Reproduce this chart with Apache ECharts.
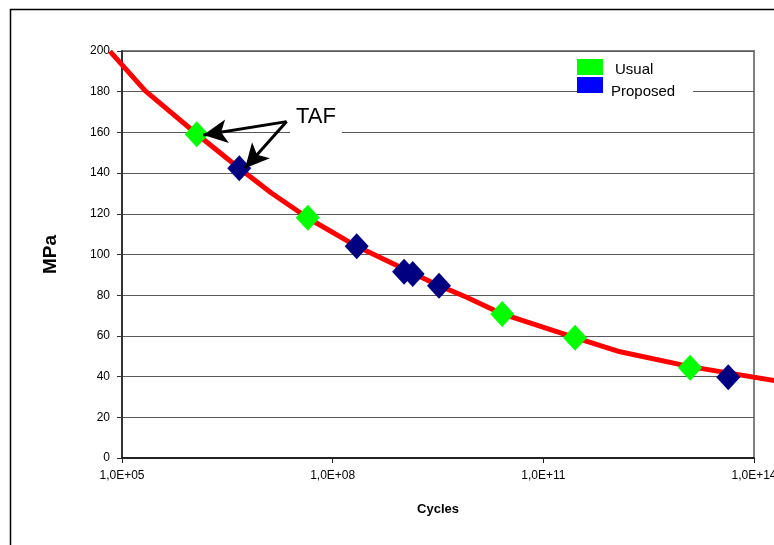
<!DOCTYPE html>
<html>
<head>
<meta charset="utf-8">
<script src="https://cdn.jsdelivr.net/npm/echarts@6/dist/echarts.min.js"></script>
<style>html,body{margin:0;padding:0;background:#fff}#c{width:774px;height:545px}</style>
</head>
<body>
<div id="c"></div>
<script>
// S-N curve (cycles, MPa)
var curveN = [6.75e4, 2.13e5, 1.17e6, 4.68e6, 1.34e7, 4.5e7, 2.2e8, 3.27e9, 8.1e9, 2.6e10, 2.83e11, 1.24e12, 1.23e13, 2.5e14];
var curveS = [199.8, 180.5, 159.1, 142.4, 130.2, 117.8, 104.0, 84.7, 79.0, 70.8, 59.1, 52.2, 44.9, 37.4];
// Usual test points
var usualN = [1.16e6, 4.43e7, 2.6e10, 2.83e11, 1.23e13];
var usualS = [159.1, 118.0, 70.8, 59.1, 44.4];
// Proposed test points
var propN = [4.68e6, 2.2e8, 1.04e9, 1.38e9, 3.27e9, 4.3e13];
var propS = [142.4, 104.0, 91.5, 90.4, 84.7, 39.7];
// tick labels
var xTicks = [1e5, 1e8, 1e11, 1e14];
var seriesNames = ['Usual', 'Proposed'];
var legendColors = ['#00ff00', '#0000ff'];

function pairs(a, b) { return a.map(function (v, i) { return [v, b[i]]; }); }
function fmt(v) {
  var e = Math.round(Math.log10(v));
  return '1,0E+' + (e < 10 ? '0' + e : '' + e);
}
var FONT = "'Liberation Sans', Arial, sans-serif";

var chart = echarts.init(document.getElementById('c'), null, { renderer: 'canvas' });
chart.setOption({
  animation: false,
  backgroundColor: '#fff',
  grid: { left: 122, right: 20, top: 51, bottom: 87, show: true, borderColor: '#808080', borderWidth: 2, outerBoundsMode: 'none', containLabel: false },
  xAxis: {
    type: 'log', logBase: 10, min: 1e5, max: 1e14,
    name: 'Cycles', nameLocation: 'middle', nameGap: 45,
    nameTextStyle: { fontFamily: FONT, fontSize: 13, fontWeight: 'bold', color: '#000' },
    axisLine: { lineStyle: { color: '#222', width: 2 } },
    axisTick: { show: true, length: 5, inside: false, customValues: xTicks, lineStyle: { color: '#222' } },
    axisLabel: { customValues: xTicks, formatter: fmt, margin: 12, fontFamily: FONT, fontSize: 12, color: '#000' },
    splitLine: { show: false },
    minorTick: { show: false }
  },
  yAxis: {
    type: 'value', min: 0, max: 200, interval: 20,
    name: 'MPa', nameLocation: 'middle', nameGap: 62, nameRotate: 90,
    nameTextStyle: { fontFamily: FONT, fontSize: 19, fontWeight: 'bold', color: '#000' },
    axisLine: { show: true, lineStyle: { color: '#333', width: 2 } },
    axisTick: { show: true, length: 5, inside: false, lineStyle: { color: '#333' } },
    axisLabel: { margin: 12, fontFamily: FONT, fontSize: 12, color: '#000' },
    splitLine: { show: true, lineStyle: { color: '#595959', width: 1 } }
  },
  series: [
    {
      name: 'S-N', type: 'lines', coordinateSystem: 'cartesian2d', polyline: true, clip: false,
      silent: true, z: 2,
      data: [{ coords: pairs(curveN, curveS) }],
      lineStyle: { color: '#ff0000', width: 5, opacity: 1, join: 'round' }
    },
    {
      name: seriesNames[0], type: 'scatter', data: pairs(usualN, usualS), symbol: 'diamond',
      symbolSize: [24, 26], itemStyle: { color: '#00ff00', opacity: 1 }, z: 3
    },
    {
      name: seriesNames[1], type: 'scatter', data: pairs(propN, propS), symbol: 'diamond',
      symbolSize: [24, 26], itemStyle: { color: '#000080', opacity: 1 }, z: 3,
      markLine: {
        silent: true, symbol: ['none', 'arrow'], symbolSize: [18, 24],
        label: { show: false },
        lineStyle: { color: '#000', width: 3, type: 'solid', opacity: 1 },
        emphasis: { disabled: true },
        data: [
          [{ coord: [2.21e7, 165.3] }, { coord: [1.44e6, 158.7] }],
          [{ coord: [2.21e7, 165.3] }, { coord: [5.65e6, 142.4] }]
        ]
      }
    }
  ],
  graphic: [
    { type: 'rect', left: 8, top: 7, shape: { width: 800, height: 600 }, style: { fill: 'none', stroke: '#000', lineWidth: 1.5 }, silent: true, z: 0 },
    { type: 'text', left: 290, top: 104, z: 10,
      style: { text: 'TAF', font: "22px 'Liberation Sans', Arial, sans-serif", fill: '#000', backgroundColor: '#fff', padding: [2, 6, 9, 6] } },
    // legend
    { type: 'rect', left: 577, top: 56, z: 10, shape: { width: 116, height: 44 }, style: { fill: '#fff' } },
    { type: 'rect', left: 577, top: 59, z: 11, shape: { width: 26, height: 16 }, style: { fill: legendColors[0] } },
    { type: 'rect', left: 577, top: 77, z: 11, shape: { width: 26, height: 16 }, style: { fill: legendColors[1] } },
    { type: 'text', left: 615, top: 62, z: 11, style: { text: seriesNames[0], font: "15px 'Liberation Sans', Arial, sans-serif", fill: '#000' } },
    { type: 'text', left: 611, top: 84, z: 11, style: { text: seriesNames[1], font: "15px 'Liberation Sans', Arial, sans-serif", fill: '#000' } }
  ]
});
</script>
</body>
</html>
